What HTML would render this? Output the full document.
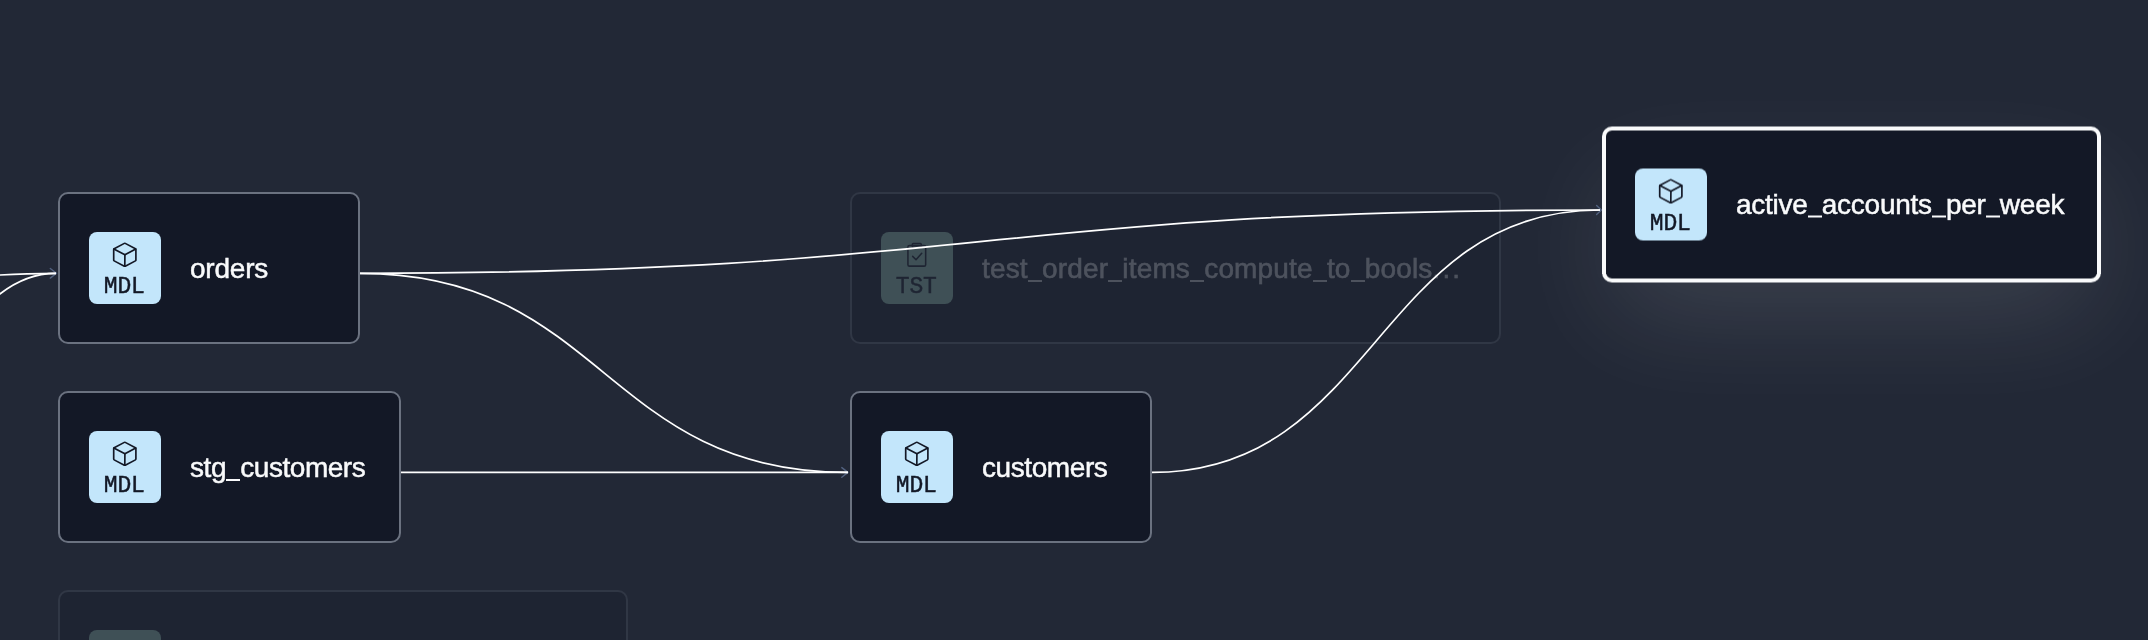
<!DOCTYPE html>
<html><head><meta charset="utf-8">
<style>
html,body{margin:0;padding:0;width:2148px;height:640px;overflow:hidden;}
#root{position:absolute;left:0;top:0;width:2148px;height:640px;overflow:hidden;background:#222836;}
body{width:2148px;height:640px;overflow:hidden;background:#222836;position:relative;font-family:"Liberation Sans",sans-serif;}
.node{position:absolute;box-sizing:border-box;border:2px solid #6b7280;border-radius:10px;background:#131826;height:152px;}
.node.sel{border:4px solid #f9fafb;border-radius:10px;height:156px;box-shadow:0 43px 108px -11px rgba(255,255,255,0.122);}
.faded{opacity:0.2;}
.ico{position:absolute;left:29px;top:38px;width:72px;height:72px;border-radius:8px;background:#c3e6fb;color:#131826;}
.ico.tst{background:#b3f0d6;}
.ico svg{position:absolute;left:21px;top:9.2px;width:29.6px;height:27.6px;}
.ico span{position:absolute;left:0;width:72px;top:43.1px;text-align:center;font-family:"Liberation Mono",monospace;font-size:23px;line-height:24px;letter-spacing:-0.2px;text-indent:-1.5px;-webkit-text-stroke:0.45px currentColor;will-change:transform;}
.lbl{position:absolute;left:130px;top:58.7px;-webkit-text-stroke:0.5px currentColor;font-size:28px;line-height:32px;color:#f9fafb;white-space:nowrap;will-change:transform;}
.u{display:inline-block;width:14.2px;height:1.7px;background:currentColor;position:relative;top:4px;letter-spacing:0;}
svg.edges{position:absolute;left:0;top:0;}
</style></head><body>
<div id="root">

<div class="node" style="left:58px;top:192px;width:302px;">
  <div class="ico"><svg viewBox="0 0 256 256" preserveAspectRatio="none" fill="none" stroke="currentColor" stroke-width="14.5" stroke-linecap="round" stroke-linejoin="round"><path d="M224,177.32V78.68a8,8,0,0,0-4.07-7L131.93,22.22a8,8,0,0,0-7.86,0L36.07,71.72a8,8,0,0,0-4.07,7v98.64a8,8,0,0,0,4.07,7l88,49.5a8,8,0,0,0,7.86,0l88-49.5A8,8,0,0,0,224,177.32Z"/><polyline points="222.9 74.6 128.9 128 33.1 74.57"/><line x1="128.9" y1="128" x2="128" y2="234.8"/></svg><span>MDL</span></div>
  <div class="lbl" style="letter-spacing:-0.2px">orders</div>
</div>

<div class="node" style="left:58px;top:391px;width:343px;">
  <div class="ico"><svg viewBox="0 0 256 256" preserveAspectRatio="none" fill="none" stroke="currentColor" stroke-width="14.5" stroke-linecap="round" stroke-linejoin="round"><path d="M224,177.32V78.68a8,8,0,0,0-4.07-7L131.93,22.22a8,8,0,0,0-7.86,0L36.07,71.72a8,8,0,0,0-4.07,7v98.64a8,8,0,0,0,4.07,7l88,49.5a8,8,0,0,0,7.86,0l88-49.5A8,8,0,0,0,224,177.32Z"/><polyline points="222.9 74.6 128.9 128 33.1 74.57"/><line x1="128.9" y1="128" x2="128" y2="234.8"/></svg><span>MDL</span></div>
  <div class="lbl" style="letter-spacing:-0.45px">stg<i class="u"></i>customers</div>
</div>

<div class="node faded" style="left:58px;top:590px;width:570px;">
  <div class="ico tst"></div>
</div>

<div class="node faded" style="left:850px;top:192px;width:651px;">
  <div class="ico tst"><svg viewBox="0 0 28 28" fill="none" stroke="currentColor" stroke-width="1.6" stroke-linecap="round" stroke-linejoin="round"><rect x="5" y="4.5" width="18" height="21" rx="1.5"/><rect x="9.5" y="2.5" width="9" height="4" rx="0.8"/><path d="M9.8 15.6l3.4 3.4 5.8-6.6"/></svg><span>TST</span></div>
  <div class="lbl" style="letter-spacing:0.16px">test<i class="u"></i>order<i class="u"></i>items<i class="u"></i>compute<i class="u"></i>to<i class="u"></i>bools<span style="letter-spacing:2.1px">...</span></div>
</div>

<div class="node" style="left:850px;top:391px;width:302px;">
  <div class="ico"><svg viewBox="0 0 256 256" preserveAspectRatio="none" fill="none" stroke="currentColor" stroke-width="14.5" stroke-linecap="round" stroke-linejoin="round"><path d="M224,177.32V78.68a8,8,0,0,0-4.07-7L131.93,22.22a8,8,0,0,0-7.86,0L36.07,71.72a8,8,0,0,0-4.07,7v98.64a8,8,0,0,0,4.07,7l88,49.5a8,8,0,0,0,7.86,0l88-49.5A8,8,0,0,0,224,177.32Z"/><polyline points="222.9 74.6 128.9 128 33.1 74.57"/><line x1="128.9" y1="128" x2="128" y2="234.8"/></svg><span>MDL</span></div>
  <div class="lbl" style="letter-spacing:-0.42px">customers</div>
</div>

<div class="node sel" style="left:1602px;top:127px;width:499px;transform:translateY(-0.5px);">
  <div class="ico"><svg viewBox="0 0 256 256" preserveAspectRatio="none" fill="none" stroke="currentColor" stroke-width="14.5" stroke-linecap="round" stroke-linejoin="round"><path d="M224,177.32V78.68a8,8,0,0,0-4.07-7L131.93,22.22a8,8,0,0,0-7.86,0L36.07,71.72a8,8,0,0,0-4.07,7v98.64a8,8,0,0,0,4.07,7l88,49.5a8,8,0,0,0,7.86,0l88-49.5A8,8,0,0,0,224,177.32Z"/><polyline points="222.9 74.6 128.9 128 33.1 74.57"/><line x1="128.9" y1="128" x2="128" y2="234.8"/></svg><span>MDL</span></div>
  <div class="lbl" style="letter-spacing:-0.26px;top:58.3px">active<i class="u"></i>accounts<i class="u"></i>per<i class="u"></i>week</div>
</div>

<svg class="edges" width="2148" height="640" viewBox="0 0 2148 640" fill="none">
  <g stroke="#52617f" stroke-width="1.4" stroke-linecap="round" stroke-linejoin="round">
    <path d="M50.3 268.5L56.5 273.3L50.3 278.1"/>
    <path d="M841.8 467.6L848 472.4L841.8 477.2"/>
    <path d="M1596.6 205.4L1601.4 210L1596.6 214.6"/>
  </g>
  <g stroke="#ffffff" stroke-width="1.7">
    <path d="M-324 323.3C-134 323.3 -134 273.3 56 273.3"/>
    <path d="M-324 893.3C-134 893.3 -134 273.3 56 273.3"/>
    <path d="M360 273.3C980 273.3 980 210 1600 210"/>
    <path d="M360 273.3C604 273.3 604 472.4 848 472.4"/>
    <path d="M401 472.4L848 472.4"/>
    <path d="M1152 472.4C1376 472.4 1376 210 1600 210"/>
  </g>
</svg>
</div>
</body></html>
